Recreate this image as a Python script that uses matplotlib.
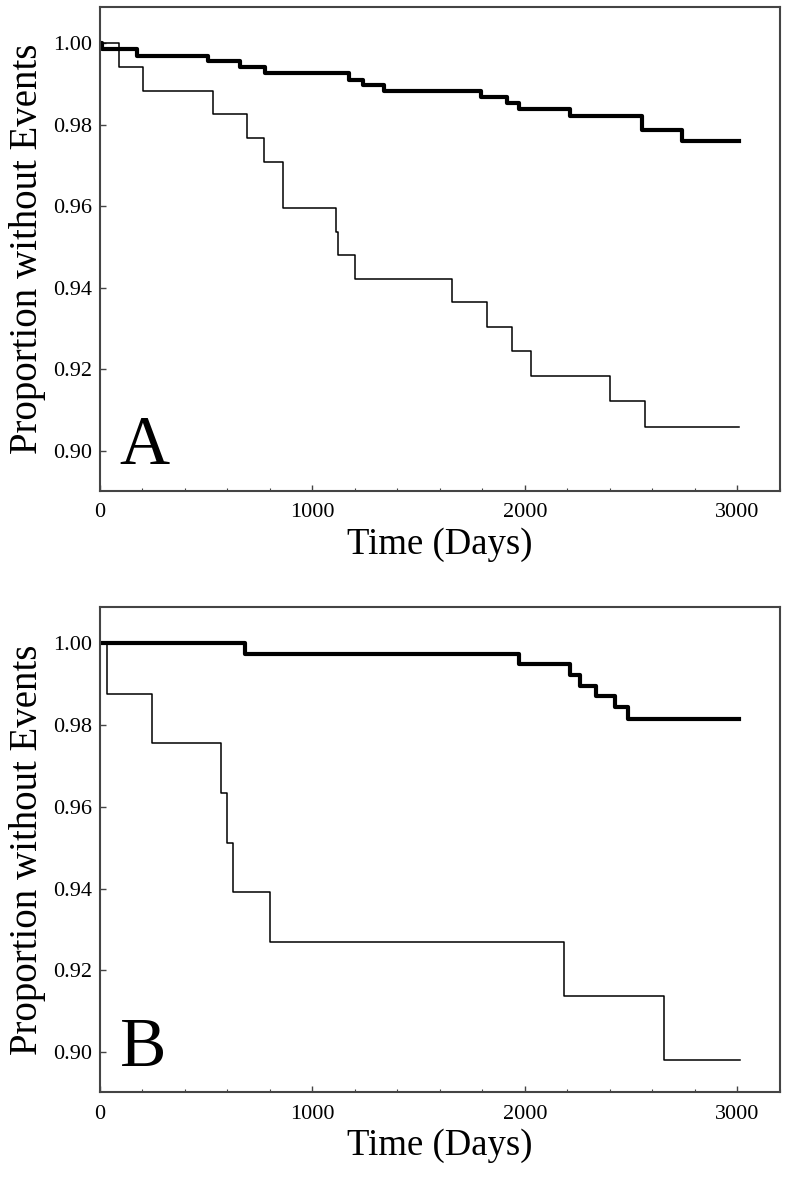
import matplotlib
matplotlib.use("Agg")
import matplotlib.pyplot as plt
from matplotlib.ticker import MultipleLocator, FormatStrFormatter

plt.rcParams['font.family'] = ['Liberation Serif', 'DejaVu Serif']

# panel A: Kaplan-Meier steps (time in days, proportion without events)
a_thick_t = [0, 8, 172, 509, 658, 776, 1172, 1238, 1335, 1791, 1915, 1971, 2210, 2549, 2739, 3005]
a_thick_s = [1.0, 0.9984, 0.9968, 0.9955, 0.9941, 0.9927, 0.9910, 0.9897, 0.9883, 0.9868, 0.9852,
             0.9837, 0.9822, 0.9786, 0.9759, 0.9759]
a_thin_t = [0, 91, 204, 533, 690, 773, 862, 1113, 1122, 1200, 1656, 1821, 1937, 2026, 2402, 2567, 3005]
a_thin_s = [1.0, 0.9940, 0.9883, 0.9825, 0.9768, 0.9709, 0.9595, 0.9536, 0.9479, 0.9422, 0.9364,
            0.9304, 0.9245, 0.9183, 0.9123, 0.9058, 0.9058]

# panel B
b_thick_t = [0, 682, 1970, 2213, 2260, 2335, 2426, 2484, 3005]
b_thick_s = [1.0, 0.9974, 0.9949, 0.9923, 0.9896, 0.9871, 0.9845, 0.9815, 0.9815]
b_thin_t = [0, 31, 243, 569, 600, 624, 799, 2186, 2656, 3010]
b_thin_s = [1.0, 0.9875, 0.9756, 0.9635, 0.9512, 0.9391, 0.9270, 0.9137, 0.8980, 0.8980]

panels = [
    ("A", a_thick_t, a_thick_s, a_thin_t, a_thin_s, [0.1269, 0.5857, 0.8629, 0.4084]),
    ("B", b_thick_t, b_thick_s, b_thin_t, b_thin_s, [0.1269, 0.0782, 0.8629, 0.4093]),
]

fig = plt.figure(figsize=(7.88, 11.85), dpi=100)

for letter, tk_t, tk_s, tn_t, tn_s, rect in panels:
    ax = fig.add_axes(rect)
    ax.step(tn_t, tn_s, where='post', color='black', lw=1.1)
    ax.step(tk_t, tk_s, where='post', color='black', lw=3.0)

    ax.set_xlim(0, 3200)
    ax.set_ylim(0.8902, 1.0088)
    ax.xaxis.set_major_locator(MultipleLocator(1000))
    ax.xaxis.set_minor_locator(MultipleLocator(200))
    ax.yaxis.set_major_locator(MultipleLocator(0.02))
    ax.yaxis.set_major_formatter(FormatStrFormatter('%.2f'))
    ax.tick_params(axis='both', which='both', direction='in', color='#444444', labelsize=16)
    ax.tick_params(axis='x', which='major', length=4, width=1, pad=9)
    ax.tick_params(axis='x', which='minor', length=2.5, width=0.8)
    ax.tick_params(axis='y', which='major', length=4, width=1, pad=6)
    for sp in ax.spines.values():
        sp.set_color('#444444')
        sp.set_linewidth(1.5)

    ax.set_xlabel("Time (Days)", fontsize=26.5)
    ax.xaxis.set_label_coords(0.5, -0.075)
    ax.set_ylabel("Proportion without Events", fontsize=28)
    ax.yaxis.set_label_coords(-0.079, 0.5)
    ax.text(0.029, 0.055, letter, transform=ax.transAxes, fontsize=50,
            ha='left', va='baseline')

fig.savefig("out.png", dpi=100)
